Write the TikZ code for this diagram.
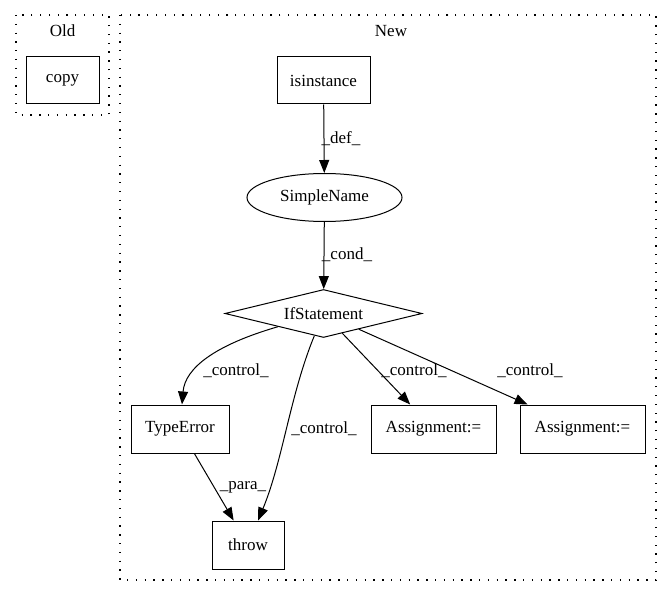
\documentclass[tikz,border=0pt]{standalone}
\usepackage{fontspec}
\setmainfont{Liberation Serif}
\usetikzlibrary{shapes.geometric,arrows.meta}
\begin{document}
\begin{tikzpicture}[x=1pt,y=-1pt,
  every node/.style={font=\fontsize{17}{19}\selectfont},
  box/.style={draw,line width=1pt,rectangle,inner sep=0pt},
  cluster/.style={draw,line width=1.3pt,dash pattern=on 1.3pt off 7.5pt},
  lbl/.style={inner sep=1pt},
  arr/.style={line width=1pt,-{Triangle[length=13pt,width=10pt]}}]
\useasboundingbox (0,0) rectangle (672,596);
% clusters
\draw[cluster] (16,15) rectangle (109,115);
\node (oldl) at (62.5,31) {Old};
\draw[cluster] (120,15) rectangle (656,580);
\node (newl) at (391,31) {New};
% nodes
\node[box,minimum width=73pt,minimum height=47pt] (copy) at (62.5,80.5) {copy};
\node[box,minimum width=93pt,minimum height=47pt] (isin) at (323.5,80.5) {isinstance};
\node[draw,ellipse,line width=1pt,minimum width=155pt,minimum height=48pt,inner sep=0pt] (sn) at (324.5,197.5) {SimpleName};
\node[draw,diamond,line width=1pt,minimum width=197pt,minimum height=48pt,inner sep=0pt,aspect=4] (if) at (323.5,313.5) {IfStatement};
\node[box,minimum width=98pt,minimum height=48pt] (te) at (180,429) {TypeError};
\node[box,minimum width=72pt,minimum height=48pt] (th) at (248,545) {throw};
\node[box,minimum width=125pt,minimum height=48pt] (a1) at (433.5,429) {Assignment:=};
\node[box,minimum width=125pt,minimum height=48pt] (a2) at (582.5,429) {Assignment:=};
% edges
\draw[arr] (isin) -- (sn);
\draw[arr] (sn) -- (if);
\draw[arr] (if) .. controls (215,345) and (185,368) .. (te);
\draw[arr] (if) .. controls (290,395) and (283,460) .. (th);
\draw[arr] (te) -- (th);
\draw[arr] (if) -- (a1);
\draw[arr] (if) -- (a2);
% labels
\node[lbl] (ldef) at (341,139) {\_def\_};
\node[lbl] (lcond) at (347,255) {\_cond\_};
\node[lbl] (lc1) at (236,371) {\_control\_};
\node[lbl] (lc2) at (324,429) {\_control\_};
\node[lbl] (lpara) at (243,487) {\_para\_};
\node[lbl] (lc3) at (414,371) {\_control\_};
\node[lbl] (lc4) at (530,371) {\_control\_};
\end{tikzpicture}
\end{document}
